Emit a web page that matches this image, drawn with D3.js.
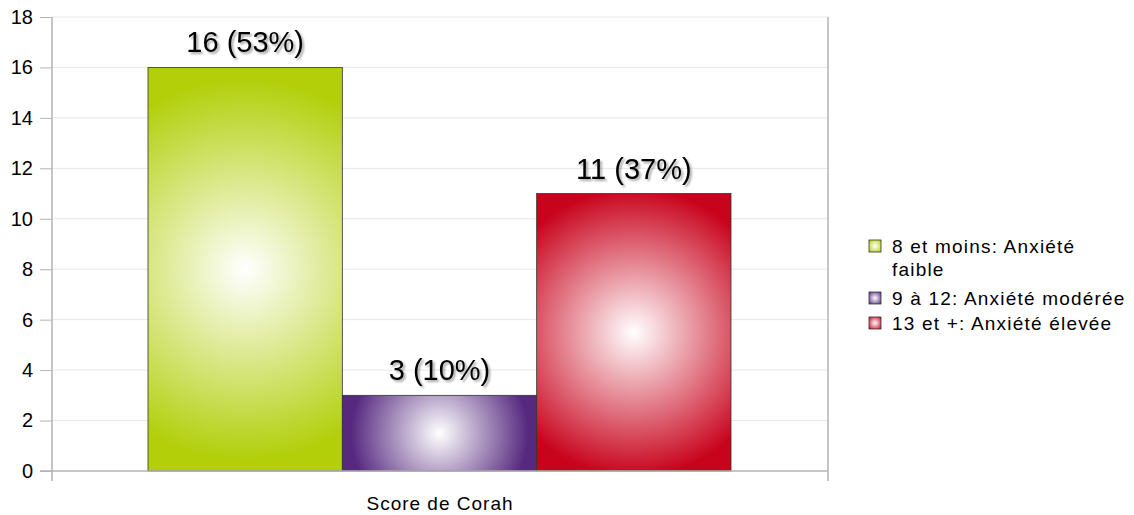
<!DOCTYPE html>
<meta charset="utf-8">
<title>Score de Corah</title>
<script src="https://d3js.org/d3.v7.min.js"></script>
<style>
  body { margin: 0; background: #fff; }
  text { font-family: "Liberation Sans", Arial, sans-serif; }
</style>
<body>
<script>

// Data
const categories = ["8 et moins: Anxiété faible", "9 à 12: Anxiété modérée", "13 et +: Anxiété élevée"];
const values = [16, 3, 11];
const labels = ["16 (53%)", "3 (10%)", "11 (37%)"];
const edgeColors = ["#b2cf0a", "#56297f", "#c8031c"];
const yTicks = [0, 2, 4, 6, 8, 10, 12, 14, 16, 18];
const groupName = "Score de Corah";

const width = 1134, height = 515;
const plot = { left: 52, right: 828, top: 17, bottom: 471 };

const svg = d3.select("body").append("svg")
  .attr("width", width)
  .attr("height", height);

const y = d3.scaleLinear().domain([0, 18]).range([plot.bottom, plot.top]);
const outer = d3.scaleBand().domain([groupName]).range([plot.left, plot.right]);
const inner = d3.scaleBand().domain(categories)
  .range([plot.left + 96, plot.right - 97]).padding(0);

const defs = svg.append("defs");
// one circular gradient per bar, centred in the bar
values.forEach((v, i) => {
  const x0 = inner(categories[i]), w = inner.bandwidth();
  const y0 = y(v), h = plot.bottom - y0;
  const g = defs.append("radialGradient")
    .attr("id", "bar" + i)
    .attr("gradientUnits", "userSpaceOnUse")
    .attr("cx", x0 + w / 2).attr("cy", y0 + h * 0.5)
    .attr("r", Math.sqrt(w * w + h * h) / 2);
  g.append("stop").attr("offset", "0%").attr("stop-color", "#ffffff");
  g.append("stop").attr("offset", "85%").attr("stop-color", edgeColors[i]);
});
edgeColors.forEach((c, i) => {
  const g = defs.append("radialGradient").attr("id", "leg" + i).attr("r", "70%");
  g.append("stop").attr("offset", "0%").attr("stop-color", "#ffffff");
  g.append("stop").attr("offset", "100%").attr("stop-color", c);
});
const shadow = defs.append("filter").attr("id", "shadow")
  .attr("x", "-10%").attr("y", "-20%").attr("width", "130%").attr("height", "150%");
shadow.append("feGaussianBlur").attr("in", "SourceAlpha").attr("stdDeviation", 0.8).attr("result", "b");
shadow.append("feOffset").attr("in", "b").attr("dx", 2).attr("dy", 2).attr("result", "o");
shadow.append("feComponentTransfer").attr("in", "o").attr("result", "s")
  .append("feFuncA").attr("type", "linear").attr("slope", 0.35);
const merge = shadow.append("feMerge");
merge.append("feMergeNode").attr("in", "s");
merge.append("feMergeNode").attr("in", "SourceGraphic");

// gridlines
svg.append("g").selectAll("line")
  .data(yTicks.filter(d => d > 0))
  .join("line")
  .attr("x1", plot.left).attr("x2", plot.right)
  .attr("y1", d => y(d)).attr("y2", d => y(d))
  .attr("stroke", "#e6e6e6");

// right border
svg.append("line")
  .attr("x1", plot.right).attr("x2", plot.right)
  .attr("y1", plot.top).attr("y2", plot.bottom + 10)
  .attr("stroke", "#b3b3b3").attr("stroke-width", 1.5);

// y axis
const yAxis = svg.append("g")
  .attr("transform", `translate(${plot.left},0)`)
  .call(d3.axisLeft(y).tickValues(yTicks).tickSize(12).tickPadding(7));
yAxis.select(".domain").remove();
yAxis.selectAll(".tick line").attr("stroke", "#b3b3b3");
yAxis.selectAll(".tick text")
  .attr("font-size", 20).attr("fill", "#000")
  .attr("font-family", "Liberation Sans, Arial, sans-serif");
svg.append("line")
  .attr("x1", plot.left).attr("x2", plot.left)
  .attr("y1", plot.top).attr("y2", plot.bottom + 10)
  .attr("stroke", "#b3b3b3").attr("stroke-width", 1.5);

// bars
svg.append("g").selectAll("rect")
  .data(values)
  .join("rect")
  .attr("x", (d, i) => inner(categories[i]))
  .attr("y", d => y(d))
  .attr("width", inner.bandwidth())
  .attr("height", d => plot.bottom - y(d))
  .attr("fill", (d, i) => `url(#bar${i})`)
  .attr("stroke", "#333")
  .attr("stroke-width", 0.8);

// bottom axis
svg.append("line")
  .attr("x1", plot.left - 12).attr("x2", plot.right)
  .attr("y1", plot.bottom).attr("y2", plot.bottom)
  .attr("stroke", "#b3b3b3").attr("stroke-width", 1.5);

svg.append("text")
  .attr("x", outer(groupName) + outer.bandwidth() / 2)
  .attr("y", 510)
  .attr("text-anchor", "middle")
  .attr("font-size", 19)
  .attr("letter-spacing", 1)
  .text(groupName);

// value labels with shadow
svg.append("g").selectAll("text")
  .data(values)
  .join("text")
  .attr("x", (d, i) => inner(categories[i]) + inner.bandwidth() / 2)
  .attr("y", d => y(d) - 15)
  .attr("text-anchor", "middle")
  .attr("font-size", 29)
  .attr("fill", "#000")
  .attr("filter", "url(#shadow)")
  .text((d, i) => labels[i]);

// legend
const legendLines = [["8 et moins: Anxiété", "faible"], ["9 à 12: Anxiété modérée"], ["13 et +: Anxiété élevée"]];
const legendY = [253, 305, 330];
const leg = svg.append("g").selectAll("g")
  .data(categories)
  .join("g")
  .attr("transform", (d, i) => `translate(869,${legendY[i]})`);
leg.append("rect")
  .attr("x", 0).attr("y", -13).attr("width", 12).attr("height", 12)
  .attr("fill", (d, i) => `url(#leg${i})`)
  .attr("stroke", "#333").attr("stroke-width", 0.8);
leg.append("text")
  .attr("font-size", 19)
  .attr("letter-spacing", 1.2)
  .selectAll("tspan")
  .data((d, i) => legendLines[i])
  .join("tspan")
  .attr("x", 23)
  .attr("dy", (t, j) => j === 0 ? 0 : 23)
  .text(t => t);

</script>
</body>
